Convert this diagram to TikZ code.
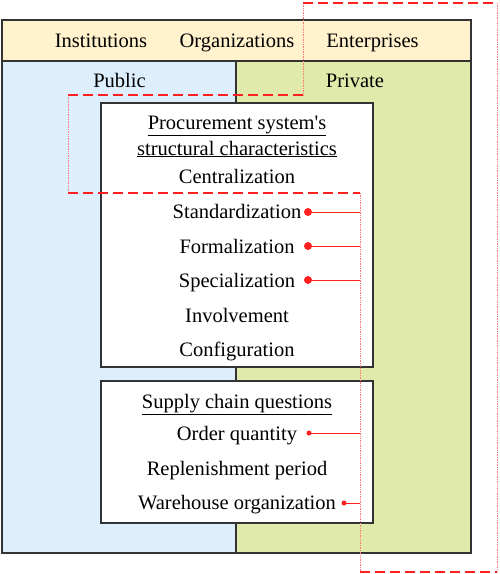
\documentclass[tikz,border=0pt]{standalone}
\usepackage{fontspec}
\setmainfont{Liberation Serif}[Ligatures=TeXOff]
\definecolor{bandyellow}{HTML}{FFF2CC}
\definecolor{publicblue}{HTML}{DDEEFC}
\definecolor{privgreen}{HTML}{E0EAAA}
\definecolor{framegray}{HTML}{333333}
\definecolor{redline}{HTML}{FF2020}
\begin{document}
\begin{tikzpicture}[x=1pt,y=-1pt,
  lbl/.style={font=\fontsize{20.5}{24}\selectfont, inner sep=0pt, anchor=base},
  region/.style={draw=framegray, line width=1.5pt},
  whitebox/.style={draw=framegray, line width=1.5pt, fill=white},
  reddash/.style={draw=redline, line width=1.8pt, dash pattern=on 10pt off 5pt},
  reddot/.style={draw=redline!60, line width=0.7pt, densely dotted},
  redlink/.style={draw=redline, line width=1pt},
  bigdot/.style={circle, fill=redline, inner sep=0pt, minimum size=8pt},
  smalldot/.style={circle, fill=redline, inner sep=0pt, minimum size=5pt}]
\useasboundingbox (0,0) rectangle (500,574);

% regions
\path[region, fill=bandyellow] (2,20) rectangle (471,61);
\path[region, fill=publicblue] (2,61) rectangle (236,553);
\path[region, fill=privgreen] (236,61) rectangle (471,553);

% header texts
\node[lbl] (inst) at (101,47) {Institutions};
\node[lbl] (org) at (237,47) {Organizations};
\node[lbl] (ent) at (372.5,47) {Enterprises};
\node[lbl] (pub) at (119.5,87) {Public};
\node[lbl] (priv) at (355,87) {Private};

% upper box
\path[whitebox] (101,103) rectangle (373,367);
\node[lbl] (ps1) at (237,129) {\underline{Procurement system's}};
\node[lbl] (ps2) at (237,155) {\underline{structural characteristics}};
\node[lbl] (cen) at (237,183) {Centralization};
\node[lbl] (sta) at (237,218) {Standardization};
\node[lbl] (for) at (237,253) {Formalization};
\node[lbl] (spe) at (237,287) {Specialization};
\node[lbl] (inv) at (237,322) {Involvement};
\node[lbl] (con) at (237,356) {Configuration};

% lower box
\path[whitebox] (101,381) rectangle (373,523);
\node[lbl] (scq) at (237,408) {\underline{Supply chain questions}};
\node[lbl] (oq) at (237,440) {Order quantity};
\node[lbl] (rp) at (237,475) {Replenishment period};
\node[lbl] (wo) at (237,509) {Warehouse organization};

% red outline
\coordinate (p1) at (303,3);
\coordinate (p2) at (497,3);
\coordinate (p3) at (497,572);
\coordinate (p4) at (360,572);
\coordinate (p5) at (360,193);
\coordinate (p6) at (68,193);
\coordinate (p7) at (68,95);
\coordinate (p8) at (303,95);
\draw[reddot] (p1) -- (p8);
\draw[reddot] (p2) -- (p3);
\draw[reddot] (p7) -- (p6);
\draw[reddot] (p5) -- (p4);
\draw[reddash] (p1) -- (p2);
\draw[reddash] (p4) -- (p3);
\draw[reddash] (p7) -- (p8);
\draw[reddash] (p6) -- (p5);

% links
\node[bigdot] (d1) at (308,212) {};
\node[bigdot] (d2) at (308,246) {};
\node[bigdot] (d3) at (308,280) {};
\node[smalldot] (d4) at (309,433) {};
\node[smalldot] (d5) at (344,503) {};
\coordinate (c1) at (360,212);
\coordinate (c2) at (360,246);
\coordinate (c3) at (360,280);
\coordinate (c4) at (360,433);
\coordinate (c5) at (360,503);
\draw[redlink] (d1.center) -- (c1);
\draw[redlink] (d2.center) -- (c2);
\draw[redlink] (d3.center) -- (c3);
\draw[redlink] (d4.center) -- (c4);
\draw[redlink] (d5.center) -- (c5);
\end{tikzpicture}
\end{document}
